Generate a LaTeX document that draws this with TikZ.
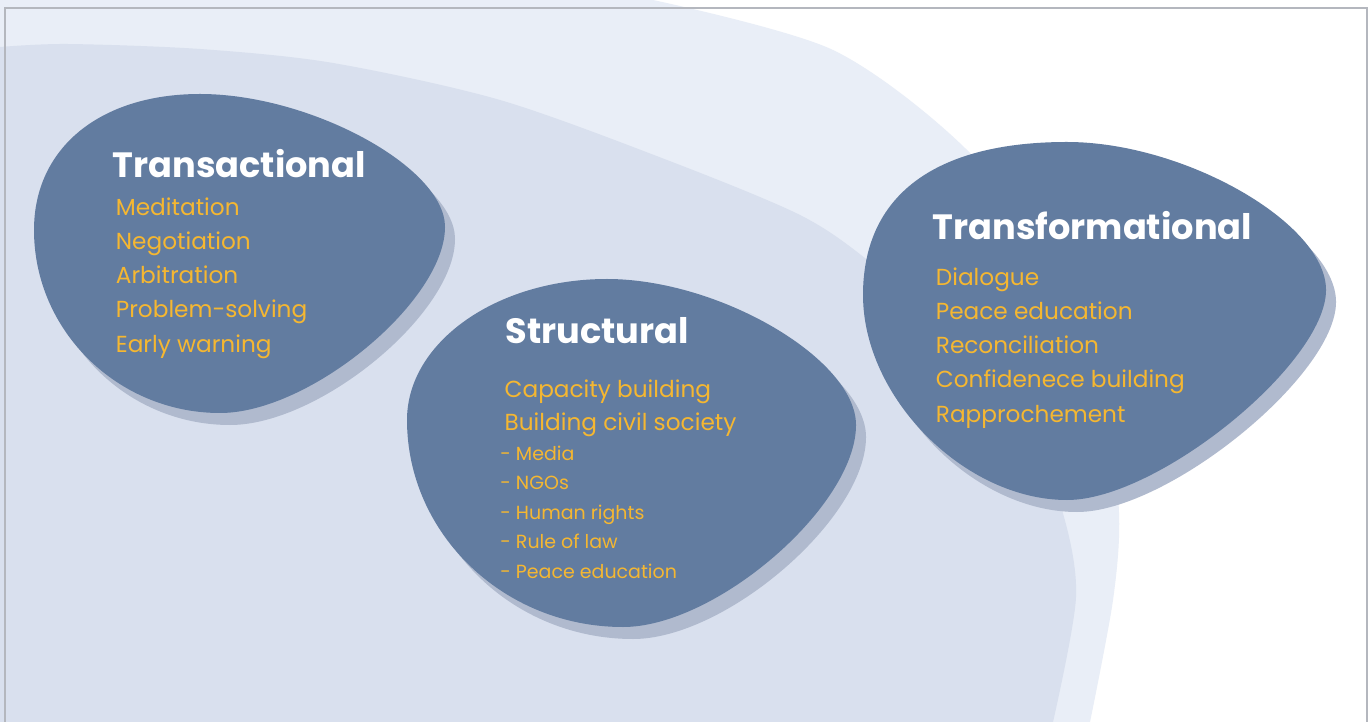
\documentclass[tikz,border=0pt]{standalone}
\usepackage{fontspec}
\setmainfont{Poppins}
\usetikzlibrary{positioning}
\definecolor{outerbg}{RGB}{233,238,247}
\definecolor{innerbg}{RGB}{217,224,238}
\definecolor{blobblue}{RGB}{98,124,160}
\definecolor{blobgrey}{RGB}{176,186,206}
\definecolor{entryorange}{RGB}{245,183,49}
\definecolor{framegrey}{RGB}{180,183,190}
\tikzset{
    heading/.style={font=\bfseries\fontsize{10}{12}\selectfont, text=white, inner sep=0pt, anchor=base west},
    entry/.style={font=\fontsize{6.6}{8}\selectfont, text=entryorange, inner sep=0pt, anchor=base west},
    subentry/.style={entry, font=\fontsize{5.4}{7}\selectfont},
    blobfill/.style={fill=blobblue},
    blobshadow/.style={fill=blobgrey, shift={(10,12)}}
}
% blob with its shadow, from its outline path
\newcommand{\blob}[1]{%
    \fill[blobshadow] #1;
    \fill[blobfill] #1;}

\begin{document}
\begin{tikzpicture}[x=0.01cm, y=-0.01cm]
    \useasboundingbox (0,0) rectangle (1371,722);
    \fill[white] (0,0) rectangle (1371,722);

    % background arcs
    \fill[outerbg] (0,0) -- plot[smooth] coordinates {(653,0) (833,50) (967,150) (1055,270) (1105,400) (1119,513) (1113,600) (1090,722)} -- (0,722) -- cycle;
    \fill[innerbg] (0,722) -- plot[smooth] coordinates {(0,47) (67,44) (200,49) (333,63) (500,100) (667,160) (800,215) (870,262) (960,340) (1025,420) (1062,510) (1076,597) (1053,722)} -- cycle;

    % blobs
    \blob{(200,94) .. controls (310,94) and (445,167) .. (445,227)
        .. controls (445,301) and (310,413) .. (220,413)
        .. controls (118,413) and (34,331) .. (34,230)
        .. controls (34,148) and (100,94) .. cycle}
    \blob{(607,279) .. controls (719,279) and (856,359) .. (856,425)
        .. controls (856,506) and (716,627) .. (623,627)
        .. controls (504,627) and (407,534) .. (407,420)
        .. controls (407,342) and (497,279) .. cycle}
    \blob{(1067,142) .. controls (1184,142) and (1326,223) .. (1326,290)
        .. controls (1326,363) and (1158,500) .. (1067,500)
        .. controls (965,500) and (863,398) .. (863,295)
        .. controls (863,196) and (934,142) .. cycle}

    % Transactional
    \node[heading] (transactional) at (112,178) {Transactional};
    \node[entry, below=0.37cm of transactional.base west, anchor=base west, xshift=0.9pt] (meditation) {Meditation};
    \node[entry, below=0.34cm of meditation.base west, anchor=base west] (negotiation) {Negotiation};
    \node[entry, below=0.34cm of negotiation.base west, anchor=base west] (arbitration) {Arbitration};
    \node[entry, below=0.34cm of arbitration.base west, anchor=base west] (problem) {Problem-solving};
    \node[entry, below=0.35cm of problem.base west, anchor=base west] (warning) {Early warning};

    % Structural
    \node[heading] (structural) at (505,344) {Structural};
    \node[entry, below=0.53cm of structural.base west, anchor=base west, xshift=-0.3pt] (capacity) {Capacity building};
    \node[entry, below=0.33cm of capacity.base west, anchor=base west] (civil) {Building civil society};
    \node[subentry, below=0.30cm of civil.base west, anchor=base west, xshift=-1.2pt] (media) {- Media};
    \node[subentry, below=0.295cm of media.base west, anchor=base west] (ngos) {- NGOs};
    \node[subentry, below=0.295cm of ngos.base west, anchor=base west] (rights) {- Human rights};
    \node[subentry, below=0.295cm of rights.base west, anchor=base west] (law) {- Rule of law};
    \node[subentry, below=0.295cm of law.base west, anchor=base west] (peaceedu) {- Peace education};

    % Transformational
    \node[heading] (transformational) at (932,240) {Transformational};
    \node[entry, below=0.45cm of transformational.base west, anchor=base west, xshift=0.9pt] (dialogue) {Dialogue};
    \node[entry, below=0.34cm of dialogue.base west, anchor=base west] (education) {Peace education};
    \node[entry, below=0.34cm of education.base west, anchor=base west] (reconciliation) {Reconciliation};
    \node[entry, below=0.34cm of reconciliation.base west, anchor=base west] (confidence) {Confidenece building};
    \node[entry, below=0.35cm of confidence.base west, anchor=base west] (rapprochement) {Rapprochement};

    % frame
    \draw[framegrey, line width=0.6pt] (5,722) -- (5,8) -- (1367,8) -- (1367,722);
\end{tikzpicture}
\end{document}
